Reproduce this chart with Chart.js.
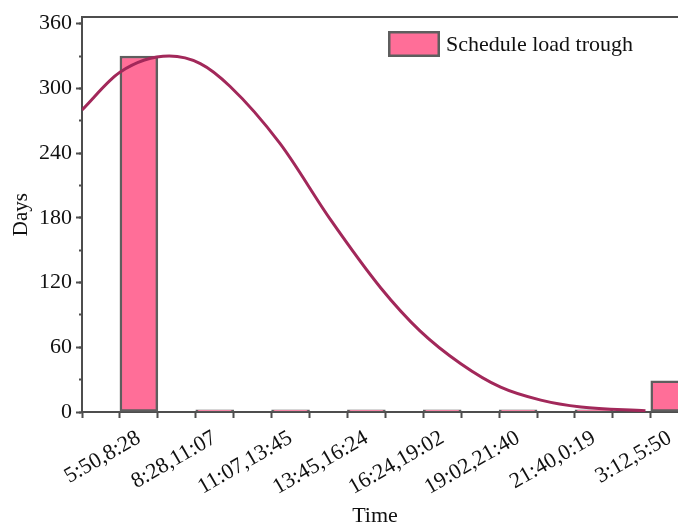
<!DOCTYPE html>
<html>
<head>
<meta charset="utf-8">
<script src="https://cdn.jsdelivr.net/npm/chart.js"></script>
<style>
  html, body { margin: 0; padding: 0; background: #fff; overflow: hidden; }
  #wrap { position: relative; width: 709px; height: 526px; }
</style>
</head>
<body>
<div id="wrap"><canvas id="myChart"></canvas></div>
<script>
var categories = ["5:50,8:28", "8:28,11:07", "11:07,13:45", "13:45,16:24", "16:24,19:02", "19:02,21:40", "21:40,0:19", "3:12,5:50"];
var days = [330, 2, 2, 2, 2, 2, 2, 29];
// fitted curve (x in bin units, 0 = first bin)
var fitX = [-0.5, 0, 0.65, 1.06, 1.45, 2.11, 2.77, 3.44, 3.96, 4.49, 5.02, 5.55, 6.08, 6.93];
var fitY = [280, 315, 330, 323, 302, 249, 179, 115, 75, 45, 23, 11, 4.6, 1.2];
var seriesName = "Schedule load trough";

var pink = "#ff6e98";
var edge = "#5e5e5e";
var axisCol = "#4d4d4d";
var curveCol = "#a2285a";

Chart.defaults.font.family = "'Liberation Serif', 'Times New Roman', serif";
Chart.defaults.font.size = 22;
Chart.defaults.color = "#111";

var barPoints = days.map(function (v, i) { return { x: i + 0.25, y: v }; });
var curvePoints = fitX.map(function (v, i) { return { x: v, y: fitY[i] }; });

// legend box and x title
var extras = {
  id: "extras",
  afterDraw: function (c) {
    var ctx = c.ctx;
    var ds = c.data.datasets[1];
    ctx.save();
    ctx.fillStyle = ds.backgroundColor;
    ctx.fillRect(388, 31, 52, 26);
    ctx.strokeStyle = ds.borderColor;
    ctx.lineWidth = 2.5;
    ctx.strokeRect(389.25, 32.25, 49.5, 23.5);
    ctx.fillStyle = "#111";
    ctx.font = "22px 'Liberation Serif'";
    ctx.textBaseline = "middle";
    ctx.fillText(ds.label, 446, 45);
    ctx.textAlign = "center";
    ctx.textBaseline = "alphabetic";
    ctx.fillText("Time", 375, 522);
    ctx.restore();
  }
};

var chartx = new Chart(document.getElementById("myChart"), {
  data: {
    datasets: [{
      type: "line",
      label: "fit",
      data: curvePoints,
      borderColor: curveCol,
      borderWidth: 3,
      pointRadius: 0,
      cubicInterpolationMode: "monotone",
      order: 0
    }, {
      type: "bar",
      label: seriesName,
      data: barPoints,
      backgroundColor: pink,
      borderColor: edge,
      borderWidth: 2.5,
      borderSkipped: false,
      categoryPercentage: 1,
      barPercentage: 1,
      order: 1
    }]
  },
  options: {
    responsive: true,
    maintainAspectRatio: false,
    animation: false,
    layout: { padding: { left: 0, right: 8, top: 13, bottom: 0 } },
    plugins: {
      legend: { display: false },
      tooltip: { enabled: false }
    },
    scales: {
      x: {
        type: "linear",
        position: "bottom",
        offset: false,
        min: -0.5,
        max: 7.55,
        grid: { offset: false, drawOnChartArea: false, tickLength: 6, tickWidth: 2, tickColor: axisCol },
        border: { display: true, color: axisCol, width: 2 },
        ticks: {
          stepSize: 0.5,
          includeBounds: false,
          autoSkip: false,
          minRotation: 30,
          maxRotation: 30,
          labelOffset: 19,
          padding: 7,
          callback: function (v) {
            return Number.isInteger(v) && categories[v] ? categories[v] : "";
          }
        },
        afterFit: function (s) { s.height = 114; }
      },
      xTop: {
        type: "linear",
        position: "top",
        offset: false,
        min: -0.5,
        max: 7.55,
        grid: { display: false },
        border: { display: true, color: axisCol, width: 2 },
        ticks: { display: false },
        afterFit: function (s) { s.height = 0; }
      },
      y: {
        type: "linear",
        position: "left",
        weight: 1,
        min: 0,
        max: 366,
        grid: { drawOnChartArea: false, tickLength: 6, tickWidth: 2, tickColor: axisCol },
        border: { display: true, color: axisCol, width: 2 },
        ticks: { stepSize: 60, includeBounds: false, padding: 4 },
        title: { display: true, text: "Days", font: { size: 21 }, padding: { top: 9 } },
        afterFit: function (s) { s.width = 82; }
      },
      yMinor: {
        type: "linear",
        axis: "y",
        position: "left",
        weight: 0,
        min: 0,
        max: 366,
        grid: { drawOnChartArea: false, tickLength: 3, tickWidth: 2, tickColor: axisCol },
        border: { display: false },
        ticks: { stepSize: 30, includeBounds: false, callback: function () { return ""; } },
        afterFit: function (s) { s.width = 0; }
      }
    }
  },
  plugins: [extras]
});
</script>
</body>
</html>
